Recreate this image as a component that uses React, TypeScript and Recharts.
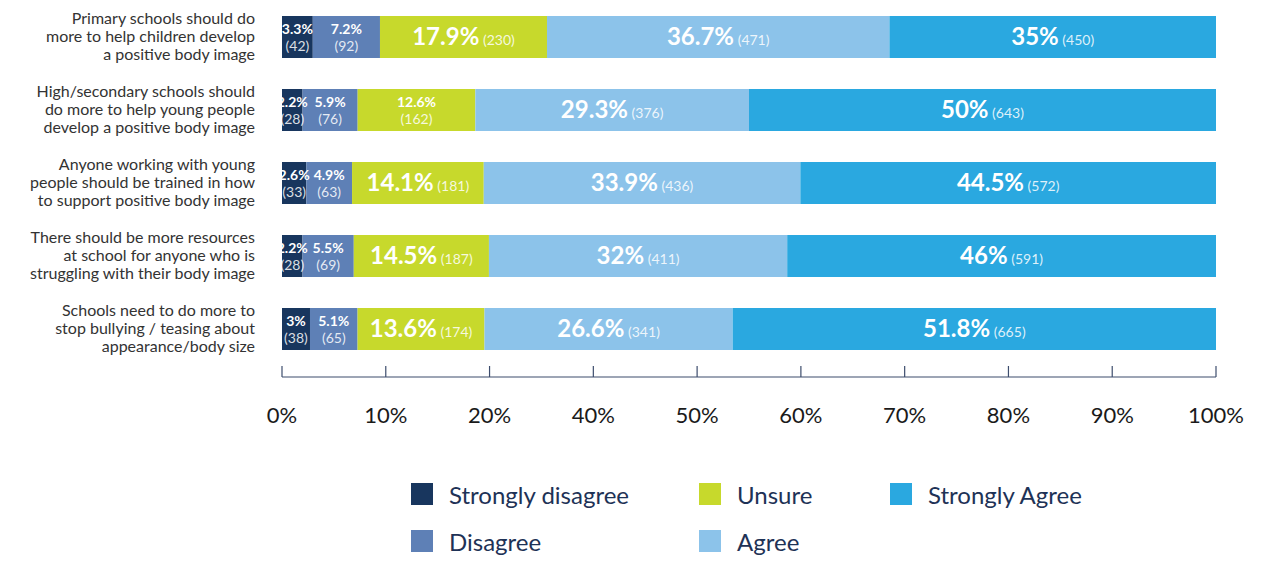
import React from "react"
import { BarChart, Bar, XAxis, YAxis, LabelList } from "recharts"

// statements shown on the y axis (\n = line break as in the original)
const categories = [
  "Primary schools should do\nmore to help children develop\na positive body image",
  "High/secondary schools should\ndo more to help young people\ndevelop a positive body image",
  "Anyone working with young\npeople should be trained in how\nto support positive body image",
  "There should be more resources\nat school for anyone who is\nstruggling with their body image",
  "Schools need to do more to\nstop bullying / teasing about\nappearance/body size",
]

// percentages per answer
const stronglyDisagree = [3.3, 2.2, 2.6, 2.2, 3]
const disagree = [7.2, 5.9, 4.9, 5.5, 5.1]
const unsure = [17.9, 12.6, 14.1, 14.5, 13.6]
const agree = [36.7, 29.3, 33.9, 32, 26.6]
const stronglyAgree = [35, 50, 44.5, 46, 51.8]

// respondent counts per answer
const stronglyDisagreeN = [42, 28, 33, 28, 38]
const disagreeN = [92, 76, 63, 69, 65]
const unsureN = [230, 162, 181, 187, 174]
const agreeN = [471, 376, 436, 411, 341]
const stronglyAgreeN = [450, 643, 572, 591, 665]

// the axis labels as printed (30% is missing in the original)
const tickLabels = ["0%", "10%", "20%", "40%", "50%", "60%", "70%", "80%", "90%", "100%"]

const FONT = "Lato, 'Noto Sans', sans-serif"

const series = [
  { key: "sd", name: "Strongly disagree", color: "#18365e", values: stronglyDisagree, counts: stronglyDisagreeN },
  { key: "d", name: "Disagree", color: "#5e80b6", values: disagree, counts: disagreeN },
  { key: "u", name: "Unsure", color: "#c7d92c", values: unsure, counts: unsureN },
  { key: "a", name: "Agree", color: "#8cc3ea", values: agree, counts: agreeN },
  { key: "sa", name: "Strongly Agree", color: "#2aa8e0", values: stronglyAgree, counts: stronglyAgreeN },
]

const data = categories.map((category, i) => {
  const row: Record<string, string | number> = { category }
  series.forEach((s) => {
    row[s.key] = s.values[i]
  })
  return row
})

const tickPositions = tickLabels.map((_, i) => i / (tickLabels.length - 1))

function YTick({ y, payload }: any) {
  const lines = String(payload.value).split("\n")
  return (
    <text x={255} y={y} textAnchor="end" fill="#333" fontFamily={FONT} fontSize={16}>
      {lines.map((line, i) => (
        <tspan key={i} x={255} y={y + (i - (lines.length - 1) / 2) * 18 + 5}>
          {line}
        </tspan>
      ))}
    </text>
  )
}

function XTick({ x, y, index }: any) {
  return (
    <g>
      <line x1={x} x2={x} y1={y - 11} y2={y} stroke="#3d4d6d" strokeWidth={1.2} />
      <text x={x} y={y + 46} textAnchor="middle" fill="#1a1a1a" fontFamily={FONT} fontSize={22}>
        {tickLabels[index]}
      </text>
    </g>
  )
}

const barLabel = (s: (typeof series)[number]) => (props: any) => {
  const { x, y, width, height, index } = props
  const pct = s.values[index]
  const n = s.counts[index]
  const cx = x + width / 2
  const cy = y + height / 2
  if (width < 122) {
    return (
      <text textAnchor="middle" fill="#fff" fontFamily={FONT}>
        <tspan x={cx} y={cy - 3} fontSize={14} fontWeight={700}>
          {pct}%
        </tspan>
        <tspan x={cx} y={cy + 14} fontSize={14} fillOpacity={0.85}>
          ({n})
        </tspan>
      </text>
    )
  }
  return (
    <text x={cx} y={cy + 8} textAnchor="middle" fill="#fff" fontFamily={FONT}>
      <tspan fontSize={24} fontWeight={700}>
        {pct}%
      </tspan>
      <tspan fontSize={14} fillOpacity={0.85}>
        {" "}({n})
      </tspan>
    </text>
  )
}

function LegendBox() {
  return (
    <div
      style={{
        position: "absolute",
        top: 483,
        left: 411,
        display: "grid",
        gridTemplateRows: "22px 22px",
        gridTemplateColumns: "288px 191px 260px",
        gridAutoFlow: "column",
        rowGap: 25,
        fontFamily: FONT,
        fontSize: 24,
        color: "#1e3256",
      }}
    >
      {series.map((s) => (
        <div key={s.key} style={{ display: "flex", alignItems: "center", gap: 16, height: 22, whiteSpace: "nowrap" }}>
          <span style={{ width: 22, height: 22, background: s.color, display: "inline-block", flex: "none" }} />
          <span>{s.name}</span>
        </div>
      ))}
    </div>
  )
}

export default function App() {
  return (
    <div style={{ position: "relative", height: 549 }}>
      <div style={{ position: "absolute", top: -8, left: -8, width: 1281, height: 565, background: "#fff" }}>
        <BarChart
          width={1281}
          height={565}
          data={data}
          layout="vertical"
          stackOffset="expand"
          margin={{ top: 0, right: 65, bottom: 0, left: 0 }}
        >
          <XAxis
            type="number"
            domain={[0, 1]}
            ticks={tickPositions}
            interval={0}
            tickSize={0}
            tickMargin={0}
            tickLine={false}
            axisLine={{ stroke: "#3d4d6d", strokeWidth: 1.2 }}
            tick={<XTick />}
            height={188}
          />
          <YAxis
            type="category"
            dataKey="category"
            width={282}
            interval={0}
            axisLine={false}
            tickLine={false}
            padding={{ top: 0, bottom: 12 }}
            tick={<YTick />}
          />
          {series.map((s) => (
            <Bar key={s.key} dataKey={s.key} name={s.name} stackId="a" fill={s.color} barSize={42} isAnimationActive={false}>
              <LabelList dataKey={s.key} content={barLabel(s)} />
            </Bar>
          ))}
        </BarChart>
        <LegendBox />
      </div>
    </div>
  )
}
